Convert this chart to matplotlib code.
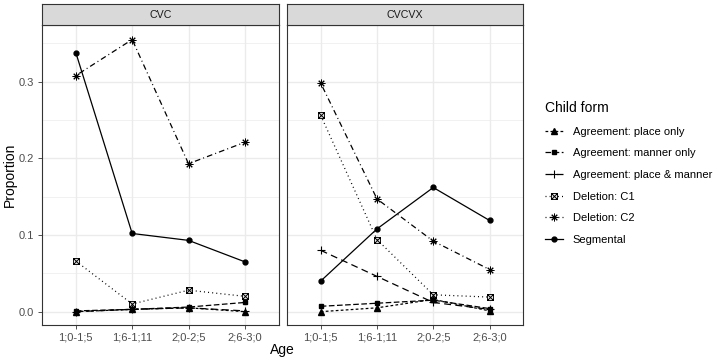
import matplotlib.pyplot as plt
from matplotlib.path import Path
from matplotlib.lines import Line2D
from matplotlib.ticker import MultipleLocator

plt.rcParams['font.family'] = ['Liberation Sans', 'DejaVu Sans']

# data
ages = ["1;0-1;5", "1;6-1;11", "2;0-2;5", "2;6-3;0"]
panels = ["CVC", "CVCVX"]
forms = ["Agreement: place only", "Agreement: manner only", "Agreement: place & manner",
         "Deletion: C1", "Deletion: C2", "Segmental"]

cvc = {
    "Agreement: place only":     [0.000, 0.003, 0.005, 0.000],
    "Agreement: manner only":    [0.001, 0.003, 0.006, 0.012],
    "Agreement: place & manner": [0.000, 0.003, 0.005, 0.001],
    "Deletion: C1":              [0.066, 0.010, 0.028, 0.020],
    "Deletion: C2":              [0.308, 0.355, 0.193, 0.221],
    "Segmental":                 [0.338, 0.102, 0.093, 0.065],
}
cvcvx = {
    "Agreement: place only":     [0.000, 0.005, 0.016, 0.001],
    "Agreement: manner only":    [0.007, 0.011, 0.015, 0.004],
    "Agreement: place & manner": [0.080, 0.046, 0.012, 0.003],
    "Deletion: C1":              [0.256, 0.094, 0.022, 0.019],
    "Deletion: C2":              [0.298, 0.147, 0.092, 0.055],
    "Segmental":                 [0.040, 0.108, 0.162, 0.119],
}

# square with a cross through it (ggplot shape 7)
sqx = Path([(-1, -1), (1, -1), (1, 1), (-1, 1), (-1, -1), (-1, -1), (1, 1), (-1, 1), (1, -1)],
           [Path.MOVETO, Path.LINETO, Path.LINETO, Path.LINETO, Path.LINETO,
            Path.MOVETO, Path.LINETO, Path.MOVETO, Path.LINETO])

styles = {
    "Agreement: place only":     dict(ls=(0, (2.2, 1.8)), marker="^", ms=3.8),
    "Agreement: manner only":    dict(ls=(0, (4.5, 2)), marker="s", ms=3.3),
    "Agreement: place & manner": dict(ls=(0, (5.5, 3.5)), marker="+", ms=6, mew=0.8),
    "Deletion: C1":              dict(ls=(0, (0.8, 2.5)), marker=sqx, ms=4.2, mew=0.7, fillstyle="none"),
    "Deletion: C2":              dict(ls=(0, (0.8, 2.5, 4.5, 2.5)), marker=(8, 2, 0), ms=5.5, mew=0.7),
    "Segmental":                 dict(ls="-", marker="o", ms=3.5),
}

W, H = 715, 363
fig = plt.figure(figsize=(W / 100, H / 100), dpi=100)
boxes = [(42, 278.7), (287, 523.3)]
top, bot = 25, 325.3
xs = list(range(len(ages)))

for (x0, x1), name, data in zip(boxes, panels, [cvc, cvcvx]):
    ax = fig.add_axes([x0 / W, 1 - bot / H, (x1 - x0) / W, (bot - top) / H])
    for f in forms:
        ax.plot(xs, data[f], color="black", lw=0.9, zorder=3, **styles[f])
    ax.set_xlim(-0.6, 3.6)
    ax.set_ylim(-0.0178, 0.374)
    ax.set_xticks(xs)
    ax.set_xticklabels(ages)
    ax.yaxis.set_major_locator(MultipleLocator(0.1))
    ax.yaxis.set_minor_locator(MultipleLocator(0.05))
    ax.grid(True, which="major", color="#ebebeb", lw=1.0, zorder=0)
    ax.grid(True, which="minor", axis="y", color="#ebebeb", lw=0.5, zorder=0)
    ax.tick_params(which="major", length=3, width=0.6, color="#333333", labelcolor="#4d4d4d",
                   labelsize=8, pad=2.5)
    ax.tick_params(which="minor", length=0)
    if name == "CVCVX":
        ax.tick_params(axis="y", length=0, labelleft=False)
    else:
        ax.yaxis.set_major_formatter(plt.FuncFormatter(lambda v, p: f"{v:.1f}"))
    for s in ax.spines.values():
        s.set_color("#333333")
        s.set_linewidth(0.8)
    # facet strip
    strip = fig.add_axes([x0 / W, 1 - top / H, (x1 - x0) / W, 21 / H])
    strip.set_facecolor("#d9d9d9")
    strip.set_xticks([])
    strip.set_yticks([])
    for s in strip.spines.values():
        s.set_color("#333333")
        s.set_linewidth(0.8)
    strip.text(0.5, 0.5, name, ha="center", va="center", fontsize=7.7, color="#1a1a1a")

fig.text(282 / W, 1 - 350 / H, "Age", ha="center", va="center", fontsize=10)
fig.text(10 / W, 1 - 175 / H, "Proportion", ha="center", va="center", rotation=90, fontsize=10)

handles = [Line2D([], [], color="black", lw=0.9, **styles[f]) for f in forms]
leg = fig.legend(handles, forms, loc="upper left", bbox_to_anchor=(545 / W, 1 - 101 / H),
                 title="Child form", frameon=False, fontsize=8, title_fontsize=10,
                 handlelength=1.6, labelspacing=1.05, handletextpad=0.9, borderpad=0,
                 borderaxespad=0, alignment="left")

fig.savefig("out.png", dpi=100)
